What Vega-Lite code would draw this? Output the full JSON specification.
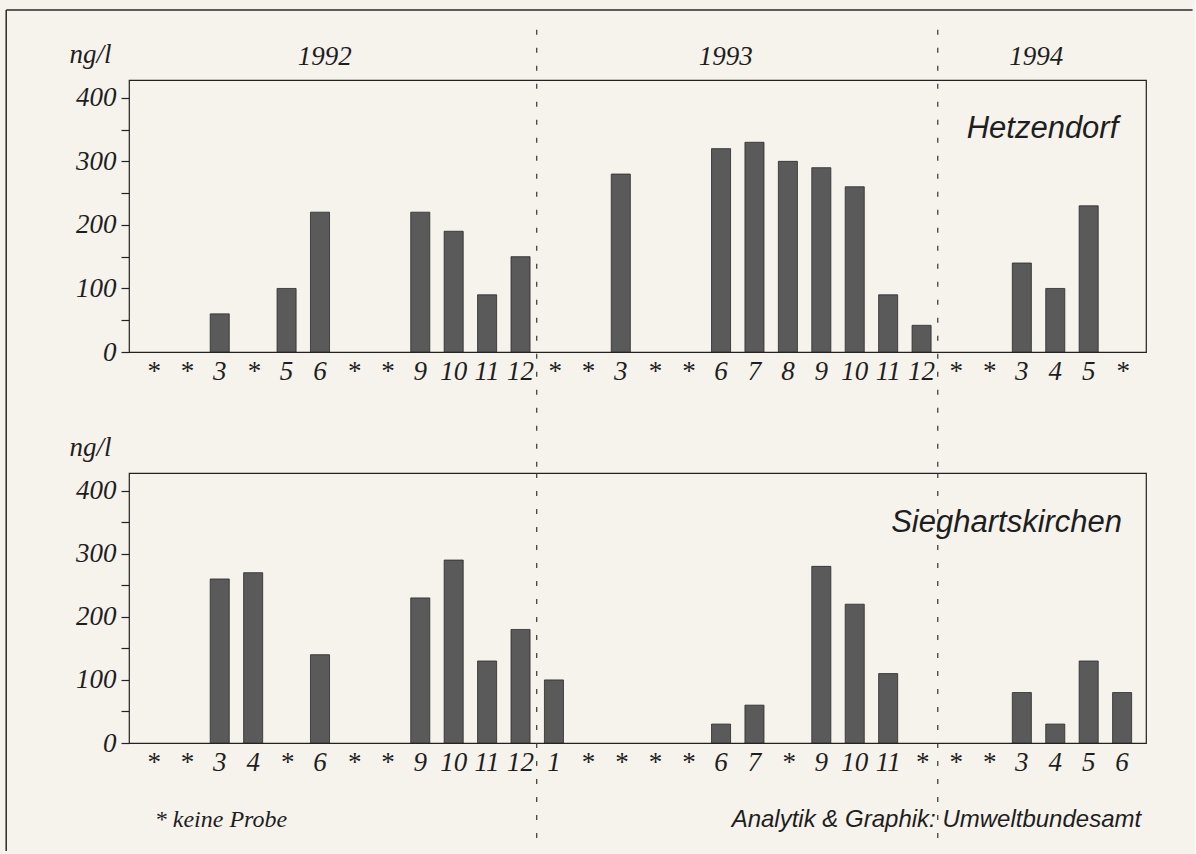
{
  "$schema": "https://vega.github.io/schema/vega-lite/v6.json",
  "background": "#f6f3ec",
  "padding": {"left": 4, "top": 8, "right": 1, "bottom": 6},
  "autosize": {"type": "pad"},
  "bounds": "flush",
  "spacing": 121,
  "config": {
    "view": {"stroke": "#222222", "strokeWidth": 1.2},
    "axisX": {
      "labelExpr": "slice(datum.value, 8)",
      "labelAngle": 0,
      "labelFont": "Liberation Serif",
      "labelFontStyle": "italic",
      "labelFontSize": 27,
      "labelColor": "#1e1e1e",
      "labelPadding": 6,
      "labelOverlap": false,
      "labelBound": false,
      "labelFlush": false,
      "ticks": false,
      "domain": false,
      "grid": false
    },
    "axisY": {
      "values": [0, 50, 100, 150, 200, 250, 300, 350, 400],
      "labelExpr": "datum.value % 100 === 0 ? datum.label : ''",
      "labelFont": "Liberation Serif",
      "labelFontStyle": "italic",
      "labelFontSize": 27,
      "labelColor": "#1e1e1e",
      "labelPadding": 5,
      "tickSize": 8,
      "tickWidth": 1.2,
      "tickColor": "#222222",
      "domain": false,
      "grid": true,
      "gridColor": "#222222",
      "gridWidth": 1.2,
      "gridOpacity": {"condition": {"test": "datum.value % 100 === 0", "value": 1}, "value": 0},
      "titleAngle": 0,
      "titleAlign": "right",
      "titleBaseline": "alphabetic",
      "titleX": -18,
      "titleY": -18,
      "titleFont": "Liberation Serif",
      "titleFontStyle": "italic",
      "titleFontWeight": "normal",
      "titleFontSize": 27,
      "titleColor": "#1e1e1e"
    }
  },
  "datasets": {
    "hetzendorf": [
      {"slot": "1992-01 *", "value": null},
      {"slot": "1992-02 *", "value": null},
      {"slot": "1992-03 3", "value": 60},
      {"slot": "1992-04 *", "value": null},
      {"slot": "1992-05 5", "value": 100},
      {"slot": "1992-06 6", "value": 220},
      {"slot": "1992-07 *", "value": null},
      {"slot": "1992-08 *", "value": null},
      {"slot": "1992-09 9", "value": 220},
      {"slot": "1992-10 10", "value": 190},
      {"slot": "1992-11 11", "value": 90},
      {"slot": "1992-12 12", "value": 150},
      {"slot": "1993-01 *", "value": null},
      {"slot": "1993-02 *", "value": null},
      {"slot": "1993-03 3", "value": 280},
      {"slot": "1993-04 *", "value": null},
      {"slot": "1993-05 *", "value": null},
      {"slot": "1993-06 6", "value": 320},
      {"slot": "1993-07 7", "value": 330},
      {"slot": "1993-08 8", "value": 300},
      {"slot": "1993-09 9", "value": 290},
      {"slot": "1993-10 10", "value": 260},
      {"slot": "1993-11 11", "value": 90},
      {"slot": "1993-12 12", "value": 42},
      {"slot": "1994-01 *", "value": null},
      {"slot": "1994-02 *", "value": null},
      {"slot": "1994-03 3", "value": 140},
      {"slot": "1994-04 4", "value": 100},
      {"slot": "1994-05 5", "value": 230},
      {"slot": "1994-06 *", "value": null}
    ],
    "sieghartskirchen": [
      {"slot": "1992-01 *", "value": null},
      {"slot": "1992-02 *", "value": null},
      {"slot": "1992-03 3", "value": 260},
      {"slot": "1992-04 4", "value": 270},
      {"slot": "1992-05 *", "value": null},
      {"slot": "1992-06 6", "value": 140},
      {"slot": "1992-07 *", "value": null},
      {"slot": "1992-08 *", "value": null},
      {"slot": "1992-09 9", "value": 230},
      {"slot": "1992-10 10", "value": 290},
      {"slot": "1992-11 11", "value": 130},
      {"slot": "1992-12 12", "value": 180},
      {"slot": "1993-01 1", "value": 100},
      {"slot": "1993-02 *", "value": null},
      {"slot": "1993-03 *", "value": null},
      {"slot": "1993-04 *", "value": null},
      {"slot": "1993-05 *", "value": null},
      {"slot": "1993-06 6", "value": 30},
      {"slot": "1993-07 7", "value": 60},
      {"slot": "1993-08 *", "value": null},
      {"slot": "1993-09 9", "value": 280},
      {"slot": "1993-10 10", "value": 220},
      {"slot": "1993-11 11", "value": 110},
      {"slot": "1993-12 *", "value": null},
      {"slot": "1994-01 *", "value": null},
      {"slot": "1994-02 *", "value": null},
      {"slot": "1994-03 3", "value": 80},
      {"slot": "1994-04 4", "value": 30},
      {"slot": "1994-05 5", "value": 130},
      {"slot": "1994-06 6", "value": 80}
    ]
  },
  "vconcat": [
    {
      "width": 1017,
      "height": 272,
      "layer": [
        {
          "data": {"name": "hetzendorf"},
          "mark": {"type": "bar", "color": "#5a5a5a", "stroke": "#2a2a2a", "strokeWidth": 0.8},
          "encoding": {
            "x": {"field": "slot", "type": "ordinal", "sort": null,
                  "scale": {"paddingInner": 0.43, "paddingOuter": 0.43,
                            "domain": ["1992-01 *", "1992-02 *", "1992-03 3", "1992-04 *", "1992-05 5", "1992-06 6", "1992-07 *", "1992-08 *", "1992-09 9", "1992-10 10", "1992-11 11", "1992-12 12", "1993-01 *", "1993-02 *", "1993-03 3", "1993-04 *", "1993-05 *", "1993-06 6", "1993-07 7", "1993-08 8", "1993-09 9", "1993-10 10", "1993-11 11", "1993-12 12", "1994-01 *", "1994-02 *", "1994-03 3", "1994-04 4", "1994-05 5", "1994-06 *"]},
                  "axis": {"title": null}},
            "y": {"field": "value", "type": "quantitative", "scale": {"domain": [0, 428], "nice": false, "zero": true}, "axis": {"title": "ng/l"}}
          }
        },
        {
          "data": {"values": [{"year": "1992", "slot": "1992-06 6"}, {"year": "1993", "slot": "1993-06 6"}]},
          "mark": {"type": "text", "font": "Liberation Serif", "fontStyle": "italic", "fontSize": 27, "color": "#1e1e1e", "align": "center", "baseline": "alphabetic"},
          "encoding": {
            "x": {"field": "slot", "type": "ordinal", "sort": null, "bandPosition": 0.75},
            "y": {"datum": 451},
            "text": {"field": "year"}
          }
        },
        {
          "data": {"values": [{"year": "1994", "slot": "1994-03 3"}]},
          "mark": {"type": "text", "font": "Liberation Serif", "fontStyle": "italic", "fontSize": 27, "color": "#1e1e1e", "align": "center", "baseline": "alphabetic"},
          "encoding": {
            "x": {"field": "slot", "type": "ordinal", "sort": null, "bandPosition": 1.25},
            "y": {"datum": 451},
            "text": {"field": "year"}
          }
        },
        {
          "data": {"values": [{"station": "Hetzendorf"}]},
          "mark": {"type": "text", "font": "Liberation Sans", "fontStyle": "italic", "fontSize": 31, "color": "#1e1e1e", "align": "right", "baseline": "alphabetic"},
          "encoding": {
            "x": {"datum": "1994-06 *", "bandPosition": 0.3},
            "y": {"datum": 337},
            "text": {"field": "station"}
          }
        },
        {
          "data": {"values": [{"slot": "1992-12 12"}, {"slot": "1993-12 12"}]},
          "mark": {"type": "rule", "color": "#333333", "strokeWidth": 1.2, "strokeDash": [5, 13]},
          "encoding": {
            "x": {"field": "slot", "type": "ordinal", "sort": null, "bandPosition": 1.35},
            "y": {"datum": 507},
            "y2": {"datum": -192}
          }
        },
        {
          "data": {"values": [{"edge": "frame top"}]},
          "mark": {"type": "rule", "color": "#2a2a2a", "strokeWidth": 1.5},
          "encoding": {
            "x": {"datum": "1992-01 *", "bandPosition": -7.2},
            "x2": {"datum": "1994-06 *", "bandPosition": 4.2},
            "y": {"datum": 538}
          }
        },
        {
          "data": {"values": [{"edge": "frame left"}]},
          "mark": {"type": "rule", "color": "#2a2a2a", "strokeWidth": 1.5},
          "encoding": {
            "x": {"datum": "1992-01 *", "bandPosition": -7.2},
            "y": {"datum": 538},
            "y2": {"datum": -785}
          }
        }
      ]
    },
    {
      "width": 1017,
      "height": 270,
      "layer": [
        {
          "data": {"name": "sieghartskirchen"},
          "mark": {"type": "bar", "color": "#5a5a5a", "stroke": "#2a2a2a", "strokeWidth": 0.8},
          "encoding": {
            "x": {"field": "slot", "type": "ordinal", "sort": null,
                  "scale": {"paddingInner": 0.43, "paddingOuter": 0.43,
                            "domain": ["1992-01 *", "1992-02 *", "1992-03 3", "1992-04 4", "1992-05 *", "1992-06 6", "1992-07 *", "1992-08 *", "1992-09 9", "1992-10 10", "1992-11 11", "1992-12 12", "1993-01 1", "1993-02 *", "1993-03 *", "1993-04 *", "1993-05 *", "1993-06 6", "1993-07 7", "1993-08 *", "1993-09 9", "1993-10 10", "1993-11 11", "1993-12 *", "1994-01 *", "1994-02 *", "1994-03 3", "1994-04 4", "1994-05 5", "1994-06 6"]},
                  "axis": {"title": null}},
            "y": {"field": "value", "type": "quantitative", "scale": {"domain": [0, 428], "nice": false, "zero": true}, "axis": {"title": "ng/l"}}
          }
        },
        {
          "data": {"values": [{"station": "Sieghartskirchen"}]},
          "mark": {"type": "text", "font": "Liberation Sans", "fontStyle": "italic", "fontSize": 31, "color": "#1e1e1e", "align": "right", "baseline": "alphabetic"},
          "encoding": {
            "x": {"datum": "1994-06 6", "bandPosition": 0.5},
            "y": {"datum": 335},
            "text": {"field": "station"}
          }
        },
        {
          "data": {"values": [{"slot": "1992-12 12"}, {"slot": "1993-12 *"}]},
          "mark": {"type": "rule", "color": "#333333", "strokeWidth": 1.2, "strokeDash": [5, 13]},
          "encoding": {
            "x": {"field": "slot", "type": "ordinal", "sort": null, "bandPosition": 1.35},
            "y": {"datum": 428},
            "y2": {"datum": -168}
          }
        },
        {
          "data": {"values": [{"note": "* keine Probe"}]},
          "mark": {"type": "text", "font": "Liberation Serif", "fontStyle": "italic", "fontSize": 24, "color": "#1e1e1e", "align": "left", "baseline": "alphabetic"},
          "encoding": {
            "x": {"datum": "1992-01 *", "bandPosition": 0.6},
            "y": {"datum": -133},
            "text": {"field": "note"}
          }
        },
        {
          "data": {"values": [{"note": "Analytik & Graphik: Umweltbundesamt"}]},
          "mark": {"type": "text", "font": "Liberation Sans", "fontStyle": "italic", "fontSize": 24, "color": "#1e1e1e", "align": "right", "baseline": "alphabetic"},
          "encoding": {
            "x": {"datum": "1994-06 6", "bandPosition": 1.5},
            "y": {"datum": -133},
            "text": {"field": "note"}
          }
        }
      ]
    }
  ]
}
